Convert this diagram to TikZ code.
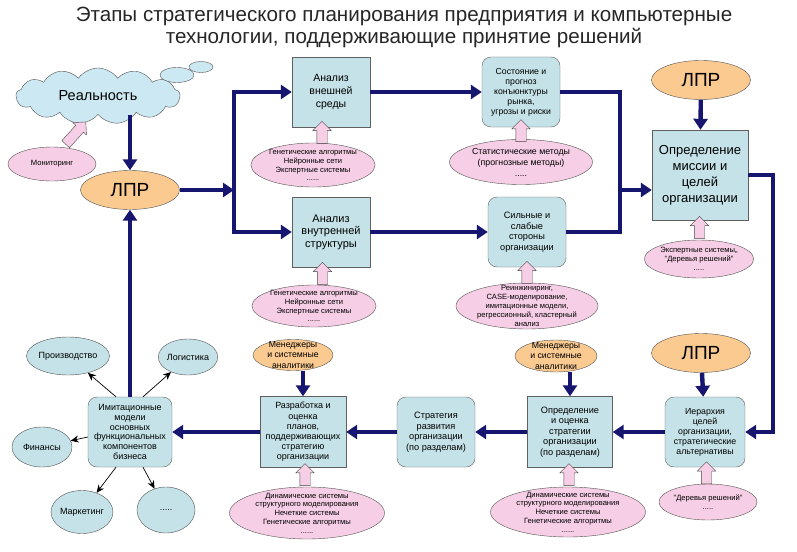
\documentclass[tikz,border=0pt]{standalone}
\usepackage{fontspec}
\setmainfont{Liberation Sans}
\usetikzlibrary{arrows.meta,shapes.geometric,shapes.symbols,shapes.arrows,calc,positioning}
\definecolor{boxblue}{RGB}{196,226,231}
\definecolor{ellpink}{RGB}{246,206,229}
\definecolor{lprorange}{RGB}{250,202,145}
\definecolor{cloudblue}{RGB}{204,232,242}
\definecolor{flownavy}{RGB}{22,22,112}
\tikzset{
  box/.style={draw=gray!75!black, fill=boxblue, align=center, inner sep=1pt, minimum width=78pt, minimum height=70pt},
  rbox/.style={box, rounded corners=9pt},
  tool/.style={ellipse, draw=gray!65!black, fill=ellpink, align=center, inner xsep=0pt, inner ysep=-5pt, font=\fontsize{7.6}{8.8}\selectfont},
  lpr/.style={ellipse, draw=gray!65!black, fill=lprorange, minimum width=99pt, minimum height=39pt, inner sep=0pt, font=\fontsize{19}{20}\selectfont},
  mgr/.style={ellipse, draw=gray!65!black, fill=lprorange, align=center, inner sep=-3pt, font=\fontsize{8.7}{10.5}\selectfont},
  area/.style={ellipse, draw=gray!65!black, fill=boxblue, inner sep=0pt, font=\fontsize{9}{10}\selectfont},
  puff/.style={ellipse, draw=gray!65!black, fill=cloudblue, inner sep=0pt},
  flow/.style={draw=flownavy, line width=4.4pt, -{Triangle[length=11pt,width=14pt]}},
  flowline/.style={draw=flownavy, line width=4.4pt},
  link/.style={draw=black, line width=0.7pt, -{Stealth[length=8pt,width=7pt]}},
  pinkup/.style={single arrow, draw=gray!55!black, fill=ellpink, rotate=90, inner xsep=0pt, inner ysep=5pt, single arrow head extend=4pt, minimum height=22pt}
}
\begin{document}
\begin{tikzpicture}[x=1pt,y=-1pt]
\useasboundingbox (0,0) rectangle (797,551);

\node[font=\fontsize{20.6}{22}\selectfont, align=center, text=black!85] (title) at (404,27)
  {Этапы стратегического планирования предприятия и компьютерные\\технологии, поддерживающие принятие решений};

% reality
\node[cloud, cloud puffs=13, cloud puff arc=110, aspect=3, draw=gray!65!black, fill=cloudblue,
  minimum width=164pt, minimum height=56pt, font=\fontsize{14.5}{16}\selectfont] (real) at (98,96) {Реальность};
\node[puff, minimum width=34pt, minimum height=15pt] (puffa) at (177,75) {};
\node[puff, minimum width=24pt, minimum height=11pt] (puffb) at (201,67) {};
\node[tool, minimum width=88pt, minimum height=34pt, font=\fontsize{7.6}{8}\selectfont] (monit) at (52,164) {Мониторинг};
\node[pinkup, rotate=-42, minimum height=30pt] (up-monit) at (74,135) {};

\node[lpr] (lpr1) at (130,190) {ЛПР};
\node[lpr] (lpr3) at (701,80) {ЛПР};
\node[lpr] (lpr4) at (701,353) {ЛПР};

% analysis
\node[box, font=\fontsize{10.5}{13}\selectfont] (ext) at (331,92) {Анализ\\внешней\\среды};
\node[rbox, font=\fontsize{8.7}{10}\selectfont] (cond) at (521,92) {Состояние и\\прогноз\\конъюнктуры\\рынка,\\угрозы и риски};
\node[box, font=\fontsize{11}{12.5}\selectfont] (int) at (331,232) {Анализ\\внутренней\\структуры};
\node[rbox, font=\fontsize{9.2}{10.5}\selectfont] (swot) at (527,232) {Сильные и\\слабые\\стороны\\организации};
\node[box, minimum width=96pt, minimum height=90pt, font=\fontsize{13}{16}\selectfont] (mission) at (700,175) {Определение\\миссии и\\целей\\организации};

\node[tool, minimum width=120pt, minimum height=44pt] (g1) at (313,165) {Генетические алгоритмы\\Нейронные сети\\Экспертные системы\\......};
\node[tool, minimum width=143pt, minimum height=45pt, font=\fontsize{8.8}{11}\selectfont] (stat) at (521,162) {Статистические методы\\(прогнозные методы)\\.....};
\node[tool, minimum width=113pt, minimum height=42pt] (g2) at (314,306) {Генетические алгоритмы\\Нейронные сети\\Экспертные системы\\......};
\node[tool, minimum width=142pt, minimum height=46pt, inner ysep=-8pt] (reeng) at (527,306) {Реинжиниринг,\\CASE-моделирование,\\имитационные модели,\\регрессионный, кластерный\\анализ};
\node[tool, minimum width=100pt, minimum height=38pt] (expert) at (699,259) {Экспертные системы,,\\"Деревья решений"\\.....};

% strategy chain
\node[rbox, minimum width=80pt, font=\fontsize{8.8}{10}\selectfont] (hier) at (705,432) {Иерархия\\целей\\организации,\\стратегические\\альтернативы};
\node[box, minimum width=85pt, minimum height=71pt, font=\fontsize{9.2}{10.5}\selectfont] (defst) at (570,432) {Определение\\и оценка\\стратегии\\организации\\(по разделам)};
\node[rbox, font=\fontsize{9.2}{10.5}\selectfont] (strat) at (436,432) {Стратегия\\развития\\организации\\(по разделам)};
\node[box, minimum width=86pt, minimum height=71pt, font=\fontsize{9}{10.2}\selectfont] (plans) at (303,432) {Разработка и\\оценка\\планов,\\поддерживающих\\стратегию\\организации};
\node[rbox, minimum width=84pt, font=\fontsize{9}{9.7}\selectfont] (imit) at (130,432) {Имитационные\\модели\\основных\\функциональных\\компонентов\\бизнеса};

\node[mgr, minimum width=82pt, minimum height=32pt] (mgr2) at (556,356) {Менеджеры\\и системные\\аналитики};
\node[mgr, minimum width=80pt, minimum height=31pt] (mgr1) at (293,355) {Менеджеры\\и системные\\аналитики};
\node[tool, minimum width=98pt, minimum height=36pt] (trees) at (708,502) {"Деревья решений"\\.....};
\node[tool, minimum width=155pt, minimum height=50pt, inner ysep=-7pt] (dyn2) at (568,512) {Динамические системы\\структурного моделирования\\Нечеткие системы\\Генетические алгоритмы\\......};
\node[tool, minimum width=155pt, minimum height=52pt, inner ysep=-7pt] (dyn1) at (307,513) {Динамические системы\\структурного моделирования\\Нечеткие системы\\Генетические алгоритмы\\......};

% business areas
\node[area, minimum width=60pt, minimum height=38pt] (prod) at (68,356) {Производство};
\node[area, minimum width=52pt, minimum height=36pt] (logi) at (188,357) {Логистика};
\node[area, minimum width=60pt, minimum height=40pt] (fin) at (42,447) {Финансы};
\node[area, minimum width=60pt, minimum height=43pt] (mark) at (82,512) {Маркетинг};
\node[area, minimum width=58pt, minimum height=46pt] (etc) at (166,510) {.....};

\foreach \e/\b in {g1/ext, stat/cond, g2/int, reeng/swot, expert/mission, trees/hier, dyn2/defst, dyn1/plans}
  \node[pinkup] (up-\e) at ($(\e.north)!0.5!(\b.south)$) {};

\coordinate (fork) at (234,190);
\coordinate (merge) at (620,190);
\coordinate (bend) at (773,432);

\draw[flow] (lpr1 |- real.south) -- (lpr1.north);
\draw[flow] (lpr1.east) -- (fork);
\draw[flow] (fork) |- (ext.west);
\draw[flow] (fork) |- (int.west);
\draw[flow] (ext) -- (cond);
\draw[flow] (int) -- (swot);
\draw[flowline] (cond.east) -| (merge);
\draw[flowline] (swot.east) -| (merge);
\draw[flow] (merge) -- (merge -| mission.west);
\draw[flow] (lpr3) -- (mission);
\draw[flow] (mission.east) -| (bend) -- (hier.east);
\draw[flow] (lpr4) -- (hier);
\draw[flow] (plans.north |- mgr1.south) -- (plans.north);
\draw[flow] (defst.north |- mgr2.south) -- (defst.north);
\foreach \a/\b in {hier/defst, defst/strat, strat/plans, plans/imit}
  \draw[flow] (\a) -- (\b);
\draw[flow] (imit) -- (lpr1);

\draw[link] ([xshift=-14pt]imit.north) -- (prod);
\draw[link] ([xshift=13pt]imit.north) -- (logi);
\draw[link] ([yshift=-5pt]imit.west) -- (fin);
\draw[link] ([xshift=-14pt]imit.south) -- (mark);
\draw[link] ([xshift=13pt]imit.south) -- (etc);
\end{tikzpicture}
\end{document}
